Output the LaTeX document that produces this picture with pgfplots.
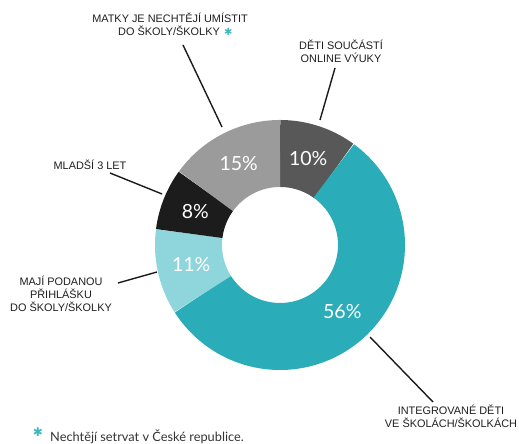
\documentclass[border=0pt]{standalone}
\usepackage{pgfplots}
\pgfplotsset{compat=1.18}
\usepackage{pgfplotstable}
\usepackage{fontspec}
\setmainfont{Liberation Sans}
\newfontfamily\latofont{Lato}
\newfontfamily\symfont{DejaVu Sans}

\definecolor{cdark}{HTML}{585858}
\definecolor{cteal}{HTML}{2AADB9}
\definecolor{clight}{HTML}{8FD6DC}
\definecolor{cblack}{HTML}{1C1C1C}
\definecolor{cgray}{HTML}{9B9B9B}
\definecolor{cstar}{HTML}{3DB8C1}
\definecolor{cline}{HTML}{1A1A1A}

% shares in %, clockwise from 12 o'clock
\pgfplotstableread{
share
10
56
11
8
15
}\sharetable

\begin{document}
\begin{tikzpicture}[
    lbl/.style={anchor=base, font=\fontsize{10.9bp}{13bp}\selectfont, text=black!88},
    pct/.style={font=\latofont\fontsize{19.5bp}{20bp}\selectfont, text=white},
    lead/.style={cline, line width=1.4bp},
]
\pgfplotstablegetelem{0}{share}\of\sharetable\let\sA\pgfplotsretval
\pgfplotstablegetelem{1}{share}\of\sharetable\let\sB\pgfplotsretval
\pgfplotstablegetelem{2}{share}\of\sharetable\let\sC\pgfplotsretval
\pgfplotstablegetelem{3}{share}\of\sharetable\let\sD\pgfplotsretval
\pgfplotstablegetelem{4}{share}\of\sharetable\let\sE\pgfplotsretval
\pgfmathsetmacro\tA{90}
\pgfmathsetmacro\tB{\tA-3.6*\sA}
\pgfmathsetmacro\tC{\tB-3.6*\sB}
\pgfmathsetmacro\tD{\tC-3.6*\sC}
\pgfmathsetmacro\tE{\tD-3.6*\sD}
\pgfmathsetmacro\tF{\tE-3.6*\sE}
% label positions, middle of each slice
\pgfmathsetmacro\xA{91*cos((\tA+\tB)/2)}\pgfmathsetmacro\yA{91*sin((\tA+\tB)/2)}
\pgfmathsetmacro\xB{91*cos((\tB+\tC)/2)}\pgfmathsetmacro\yB{91*sin((\tB+\tC)/2)}
\pgfmathsetmacro\xC{91*cos((\tC+\tD)/2)}\pgfmathsetmacro\yC{91*sin((\tC+\tD)/2)}
\pgfmathsetmacro\xD{91*cos((\tD+\tE)/2)}\pgfmathsetmacro\yD{91*sin((\tD+\tE)/2)}
\pgfmathsetmacro\xE{91*cos((\tE+\tF)/2)}\pgfmathsetmacro\yE{91*sin((\tE+\tF)/2)}

\begin{axis}[
    x=1bp, y=1bp,
    xmin=-280, xmax=239, ymin=-199, ymax=245,
    hide axis, clip=false,
    ring/.style={line width=67bp, samples=90, variable=\t},
]
\addplot[ring, cdark,  domain=\tB:\tA] ({91.5*cos(\t)}, {91.5*sin(\t)});
\addplot[ring, cteal,  domain=\tC:\tB] ({91.5*cos(\t)}, {91.5*sin(\t)});
\addplot[ring, clight, domain=\tD:\tC] ({91.5*cos(\t)}, {91.5*sin(\t)});
\addplot[ring, cblack, domain=\tE:\tD] ({91.5*cos(\t)}, {91.5*sin(\t)});
\addplot[ring, cgray,  domain=\tF:\tE] ({91.5*cos(\t)}, {91.5*sin(\t)});

\node[pct] at (axis cs:\xA,\yA) {\sA\%};
\node[pct] at (axis cs:\xB,\yB) {\sB\%};
\node[pct] at (axis cs:\xC,\yC) {\sC\%};
\node[pct] at (axis cs:\xD,\yD) {\sD\%};
\node[pct] at (axis cs:\xE,\yE) {\sE\%};

% callout texts
\node[lbl] at (axis cs:-110,222) {MATKY JE NECHTĚJÍ UMÍSTIT};
\node[lbl] (l2) at (axis cs:-111,209) {DO ŠKOLY/ŠKOLKY};
\node[anchor=base west, inner sep=0.5bp, text=cstar, font=\symfont\fontsize{10bp}{12bp}\selectfont] at (l2.base east) {✱};
\node[lbl] at (axis cs:61,195) {DĚTI SOUČÁSTÍ};
\node[lbl] at (axis cs:61,182) {ONLINE VÝUKY};
\node[lbl] at (axis cs:-190,75) {MLADŠÍ 3 LET};
\node[lbl] at (axis cs:-219,-41) {MAJÍ PODANOU};
\node[lbl] at (axis cs:-219,-54) {PŘIHLÁŠKU};
\node[lbl] at (axis cs:-219,-67) {DO ŠKOLY/ŠKOLKY};
\node[lbl] at (axis cs:171,-170) {INTEGROVANÉ DĚTI};
\node[lbl] at (axis cs:171,-183) {VE ŠKOLÁCH/ŠKOLKÁCH};

% leader lines
\draw[lead] (axis cs:-97,200) -- (axis cs:-58,118);
\draw[lead] (axis cs:55,177) -- (axis cs:40,125);
\draw[lead] (axis cs:-170,72) -- (axis cs:-118,51);
\draw[lead] (axis cs:-162,-38) -- (axis cs:-123,-27);
\draw[lead] (axis cs:90,-92) -- (axis cs:153,-157);

% footnote
\node[text=cstar, font=\symfont\fontsize{12bp}{12bp}\selectfont] at (axis cs:-242,-187) {✱};
\node[anchor=base west, inner sep=0pt, text=black!80, font=\latofont\fontsize{12.8bp}{13bp}\selectfont] at (axis cs:-230,-197) {Nechtějí setrvat v České republice.};
\end{axis}
\pgfresetboundingbox
\path[use as bounding box] (current axis.south west) rectangle (current axis.north east);
\end{tikzpicture}
\end{document}
